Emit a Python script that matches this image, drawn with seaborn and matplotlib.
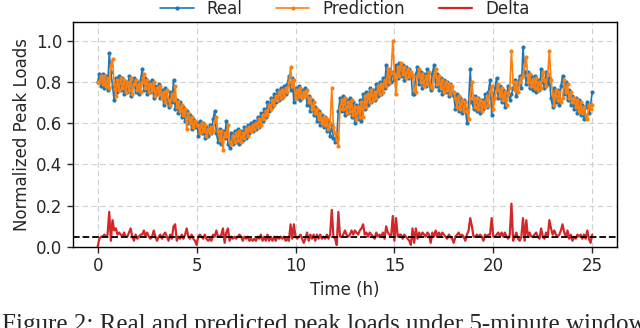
import numpy as np
import matplotlib
matplotlib.use("Agg")
import matplotlib.pyplot as plt
import seaborn as sns

# normalized peak loads, 5-minute steps, one row per hour (+ final point at 25 h)
real = [
    0.80, 0.84, 0.78, 0.84, 0.77, 0.83, 0.76, 0.94, 0.85, 0.78, 0.71, 0.82,
    0.75, 0.83, 0.76, 0.82, 0.74, 0.80, 0.75, 0.83, 0.73, 0.79, 0.82, 0.75,
    0.80, 0.74, 0.81, 0.86, 0.76, 0.82, 0.74, 0.80, 0.75, 0.81, 0.72, 0.78,
    0.74, 0.79, 0.72, 0.76, 0.69, 0.77, 0.71, 0.68, 0.75, 0.70, 0.81, 0.67,
    0.71, 0.65, 0.70, 0.63, 0.68, 0.61, 0.66, 0.60, 0.64, 0.57, 0.62, 0.58,
    0.60, 0.54, 0.61, 0.55, 0.60, 0.53, 0.58, 0.54, 0.59, 0.55, 0.62, 0.66,
    0.55, 0.51, 0.57, 0.50, 0.56, 0.53, 0.61, 0.50, 0.48, 0.55, 0.50, 0.56,
    0.51, 0.57, 0.50, 0.56, 0.52, 0.58, 0.53, 0.59, 0.55, 0.60, 0.56, 0.61,
    0.57, 0.63, 0.58, 0.65, 0.61, 0.67, 0.63, 0.70, 0.66, 0.72, 0.68, 0.74,
    0.70, 0.76, 0.71, 0.77, 0.72, 0.78, 0.74, 0.79, 0.83, 0.76, 0.82, 0.70,
    0.77, 0.72, 0.78, 0.71, 0.76, 0.73, 0.77, 0.69, 0.73, 0.66, 0.71, 0.64,
    0.68, 0.61, 0.66, 0.59, 0.64, 0.58, 0.63, 0.56, 0.61, 0.54, 0.59, 0.53,
    0.51, 0.53, 0.66, 0.72, 0.66, 0.73, 0.64, 0.71, 0.65, 0.72, 0.63, 0.70,
    0.60, 0.69, 0.62, 0.71, 0.61, 0.74, 0.67, 0.75, 0.69, 0.77, 0.70, 0.76,
    0.71, 0.79, 0.73, 0.80, 0.74, 0.82, 0.77, 0.88, 0.79, 0.86, 0.80, 0.85,
    0.81, 0.88, 0.82, 0.89, 0.83, 0.88, 0.81, 0.87, 0.82, 0.86, 0.84, 0.74,
    0.74, 0.84, 0.87, 0.79, 0.85, 0.77, 0.84, 0.78, 0.86, 0.79, 0.76, 0.84,
    0.88, 0.78, 0.84, 0.76, 0.82, 0.74, 0.81, 0.75, 0.80, 0.73, 0.79, 0.74,
    0.73, 0.67, 0.74, 0.66, 0.72, 0.65, 0.71, 0.67, 0.60, 0.70, 0.86, 0.70,
    0.67, 0.73, 0.66, 0.72, 0.65, 0.71, 0.67, 0.74, 0.68, 0.75, 0.81, 0.64,
    0.72, 0.77, 0.82, 0.72, 0.78, 0.70, 0.76, 0.68, 0.74, 0.78, 0.71, 0.74,
    0.77, 0.81, 0.73, 0.79, 0.83, 0.77, 0.97, 0.85, 0.79, 0.85, 0.77, 0.83,
    0.76, 0.83, 0.75, 0.81, 0.76, 0.86, 0.80, 0.77, 0.85, 0.79, 0.82, 0.72,
    0.68, 0.77, 0.70, 0.76, 0.69, 0.78, 0.83, 0.74, 0.80, 0.71, 0.76, 0.69,
    0.73, 0.67, 0.72, 0.65, 0.71, 0.64, 0.69, 0.62, 0.68, 0.70, 0.65, 0.69,
    0.75,
]

pred = [
    0.80, 0.80, 0.83, 0.79, 0.83, 0.78, 0.82, 0.77, 0.88, 0.91, 0.79, 0.73,
    0.81, 0.76, 0.82, 0.77, 0.81, 0.75, 0.80, 0.76, 0.82, 0.74, 0.79, 0.81,
    0.76, 0.79, 0.75, 0.80, 0.84, 0.77, 0.81, 0.75, 0.79, 0.76, 0.80, 0.73,
    0.77, 0.74, 0.78, 0.72, 0.75, 0.70, 0.76, 0.71, 0.69, 0.74, 0.71, 0.78,
    0.68, 0.70, 0.66, 0.69, 0.64, 0.67, 0.57, 0.65, 0.60, 0.63, 0.58, 0.61,
    0.59, 0.59, 0.55, 0.60, 0.56, 0.59, 0.54, 0.57, 0.55, 0.58, 0.56, 0.61,
    0.63, 0.56, 0.52, 0.56, 0.47, 0.55, 0.54, 0.59, 0.51, 0.50, 0.54, 0.51,
    0.55, 0.52, 0.56, 0.51, 0.55, 0.53, 0.57, 0.54, 0.58, 0.56, 0.59, 0.57,
    0.60, 0.58, 0.62, 0.59, 0.64, 0.62, 0.66, 0.64, 0.69, 0.67, 0.71, 0.69,
    0.73, 0.71, 0.75, 0.72, 0.76, 0.73, 0.77, 0.75, 0.80, 0.87, 0.78, 0.81,
    0.72, 0.76, 0.73, 0.77, 0.72, 0.75, 0.73, 0.76, 0.70, 0.72, 0.67, 0.70,
    0.65, 0.67, 0.62, 0.65, 0.60, 0.63, 0.59, 0.62, 0.57, 0.60, 0.77, 0.58,
    0.55, 0.52, 0.49, 0.67, 0.71, 0.67, 0.72, 0.65, 0.70, 0.66, 0.71, 0.64,
    0.68, 0.62, 0.68, 0.63, 0.70, 0.63, 0.73, 0.68, 0.74, 0.70, 0.76, 0.71,
    0.75, 0.72, 0.78, 0.74, 0.79, 0.75, 0.81, 0.78, 0.86, 0.80, 0.85, 1.00,
    0.84, 0.74, 0.87, 0.83, 0.89, 0.84, 0.87, 0.82, 0.86, 0.83, 0.85, 0.83,
    0.76, 0.75, 0.83, 0.86, 0.80, 0.84, 0.78, 0.83, 0.79, 0.85, 0.78, 0.77,
    0.83, 0.86, 0.79, 0.83, 0.77, 0.81, 0.75, 0.80, 0.76, 0.79, 0.74, 0.78,
    0.75, 0.72, 0.68, 0.73, 0.67, 0.71, 0.66, 0.70, 0.66, 0.62, 0.72, 0.80,
    0.72, 0.68, 0.72, 0.67, 0.71, 0.66, 0.70, 0.68, 0.73, 0.69, 0.75, 0.78,
    0.67, 0.72, 0.76, 0.79, 0.73, 0.77, 0.71, 0.75, 0.69, 0.74, 0.77, 0.95,
    0.80, 0.76, 0.80, 0.75, 0.80, 0.82, 0.83, 0.88, 0.92, 0.80, 0.84, 0.78,
    0.81, 0.77, 0.82, 0.76, 0.80, 0.77, 0.85, 0.81, 0.78, 0.84, 0.95, 0.81,
    0.74, 0.69, 0.76, 0.71, 0.75, 0.70, 0.72, 0.81, 0.75, 0.79, 0.72, 0.75,
    0.70, 0.72, 0.68, 0.71, 0.66, 0.70, 0.65, 0.68, 0.64, 0.62, 0.69, 0.67,
    0.69,
]

threshold = 0.05
hours = np.arange(len(real)) / 12          # 5-minute steps
delta = np.abs(np.array(real) - np.array(pred))

sns.set_style("whitegrid", {"grid.linestyle": (0, (5, 3)), "grid.color": "#d0d0d0",
                            "axes.edgecolor": "black",
                            "xtick.bottom": True, "ytick.left": True})
plt.rcParams["font.family"] = ["DejaVu Sans"]

fig = plt.figure(figsize=(6.4, 3.28), dpi=100)
ax = fig.add_axes([0.114, 0.247, 0.850, 0.686])

sns.lineplot(x=hours, y=real, ax=ax, color="#1f77b4", lw=1.2, marker="o",
             markersize=3, markeredgewidth=0, label="Real")
sns.lineplot(x=hours, y=pred, ax=ax, color="#ff7f0e", lw=1.2, marker="o",
             markersize=3, markeredgewidth=0, label="Prediction")
sns.lineplot(x=hours, y=delta, ax=ax, color="#d62728", lw=1.6, label="Delta")
ax.axhline(threshold, color="black", ls="--", lw=1.3)

ax.set_xlim(-1.25, 26.25)
ax.set_ylim(0, 1.09)
ax.set_xticks([0, 5, 10, 15, 20, 25])
ax.set_yticks([0, 0.2, 0.4, 0.6, 0.8, 1.0])
ax.tick_params(labelsize=12, length=4, width=1)
ax.set_xlabel("Time (h)", fontsize=12)
ax.set_ylabel("Normalized Peak Loads", fontsize=12)
for s in ax.spines.values():
    s.set_linewidth(1.0)

ax.legend(loc="lower center", bbox_to_anchor=(0.5, 0.99), ncol=3, frameon=False,
          fontsize=12, borderaxespad=0, columnspacing=2.0)

fig.text(0.003, -0.025, "Figure 2: Real and predicted peak loads under 5-minute windows",
         fontsize=18, family="Liberation Serif", ha="left", va="bottom")

fig.savefig("out.png", dpi=100)
